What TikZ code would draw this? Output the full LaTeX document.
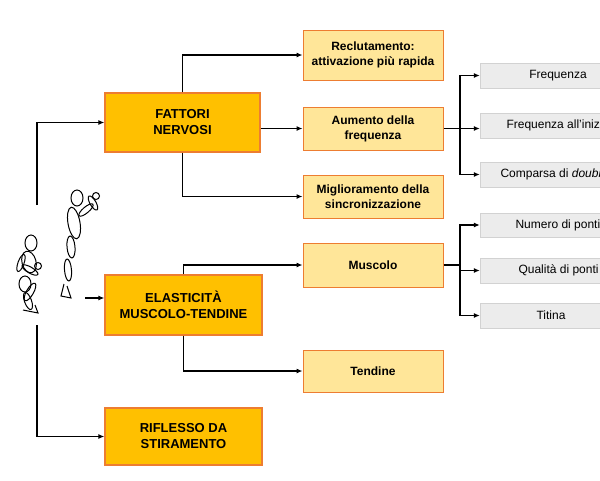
\documentclass[tikz,border=0pt]{standalone}
\usepackage{fontspec}
\setmainfont{Liberation Sans}
\usetikzlibrary{arrows.meta}
\definecolor{mainf}{HTML}{FFC000}
\definecolor{midf}{HTML}{FFE699}
\definecolor{bord}{HTML}{ED7D31}
\begin{document}
\begin{tikzpicture}[x=1pt,y=-1pt,
  main/.style={draw=bord,line width=1.3pt,fill=mainf,align=center,font=\fontsize{13}{16}\selectfont\bfseries,inner sep=0},
  mid/.style={draw=bord,line width=1pt,fill=midf,align=center,font=\fontsize{12}{15}\selectfont\bfseries,inner sep=0},
  gr/.style={draw=gray!35,fill=gray!15,inner sep=0},
  gt/.style={font=\fontsize{12}{14}\selectfont},
  ar/.style={-{Latex[length=6pt,width=5pt]},line width=1.1pt},
  ln/.style={line width=1.1pt},
  fig/.style={line width=1pt}]
\useasboundingbox (0,0) rectangle (600,480);
\clip (0,0) rectangle (600,480);
% main boxes
\node[main,minimum width=155,minimum height=59] (fn) at (182.5,122.5) {FATTORI\\NERVOSI};
\node[main,minimum width=157,minimum height=60] (em) at (183.5,305) {ELASTICITÀ\\MUSCOLO-TENDINE};
\node[main,minimum width=157,minimum height=57] (rs) at (183.5,436.5) {RIFLESSO DA\\STIRAMENTO};
% middle boxes
\node[mid,minimum width=140,minimum height=50] (rec) at (373,55) {Reclutamento:\\attivazione più rapida};
\node[mid,minimum width=140,minimum height=43] (aum) at (373,128.5) {Aumento della\\frequenza};
\node[mid,minimum width=140,minimum height=43] (mig) at (373,196.5) {Miglioramento della\\sincronizzazione};
\node[mid,minimum width=140,minimum height=44] (mus) at (373,265) {Muscolo};
\node[mid,minimum width=140,minimum height=42] (ten) at (373,371) {Tendine};
% grey boxes
\node[gr,minimum width=140,minimum height=25] (g1) at (550,75.5) {};
\node[gr,minimum width=140,minimum height=25] (g2) at (550,125.5) {};
\node[gr,minimum width=140,minimum height=25] (g3) at (550,174.5) {};
\node[gr,minimum width=140,minimum height=24] (g4) at (550,225) {};
\node[gr,minimum width=140,minimum height=25] (g5) at (550,270.5) {};
\node[gr,minimum width=140,minimum height=25] (g6) at (550,315.5) {};
\node[gt] at (558,75.5) {Frequenza};
\node[gt,anchor=west] at (503,125.5) {Frequenza all'inizio};
\node[gt,anchor=west] at (497,174.5) {Comparsa di \textit{doublet}};
\node[gt,anchor=west] at (512,225) {Numero di ponti};
\node[gt,anchor=west] at (515,270.5) {Qualità di ponti};
\node[gt] at (551,315.5) {Titina};
% left connectors
\coordinate (t1) at (37,205);
\coordinate (t2) at (37,325);
\coordinate (t3) at (85,298);
\draw[ar] (t1) |- (fn.west);
\draw[ar] (t2) |- (rs.west);
\draw[ar] (t3) -- (em.west|-t3);
% fattori trunk
\draw[ar] (fn.north) |- (rec.west);
\draw[ar] (fn.south) |- (mig.west);
\draw[ar] (fn.east|-aum) -- (aum.west);
% elasticita trunk
\draw[ar] (em.north) |- (mus.west);
\draw[ar] (em.south) |- (ten.west);
% right trunks
\coordinate (j1) at (460,128.5);
\coordinate (j2) at (460,265);
\draw[ln] (aum.east) -- (j1);
\draw[ar] (j1) |- (g1.west);
\draw[ar] (j1) -- (g2.west|-j1);
\draw[ar] (j1) |- (g3.west);
\draw[ln] (mus.east) -- (j2);
\draw[ar] (j2) |- (g4.west);
\draw[ar] (j2) |- (g5.west);
\draw[ar] (j2) |- (g6.west);
% figure 1 (crouched)
\begin{scope}[fig]
\draw (31,243) ellipse (6 and 8);
\draw[rotate around={15:(29,262)}] (29,262) ellipse (7 and 11);
\draw[rotate around={-20:(21,263)}] (21,263) ellipse (3 and 9);
\draw[rotate around={60:(30,270)}] (30,270) ellipse (3 and 9);
\draw (38,266) circle (3.5);
\draw (25,284) ellipse (6 and 8);
\draw[rotate around={-30:(30,292)}] (30,292) ellipse (3.5 and 10);
\draw[rotate around={20:(28,301)}] (28,301) ellipse (3.5 and 9);
\draw (23,310) -- (38,313) -- (35,305);
\end{scope}
% figure 2 (jumping)
\begin{scope}[fig]
\draw (77,198) ellipse (6 and 8);
\draw[rotate around={10:(74,223)}] (74,223) ellipse (6 and 16);
\draw[rotate around={-50:(86,210)}] (86,210) ellipse (3 and 9);
\draw[rotate around={30:(93,203)}] (93,203) ellipse (3 and 8);
\draw (96,196) circle (3.5);
\draw[rotate around={5:(71,247)}] (71,247) ellipse (4 and 11);
\draw[rotate around={5:(68,270)}] (68,270) ellipse (3.5 and 11);
\draw (64,284) -- (61,296) -- (71,298) -- (67,286);
\end{scope}
\end{tikzpicture}
\end{document}
